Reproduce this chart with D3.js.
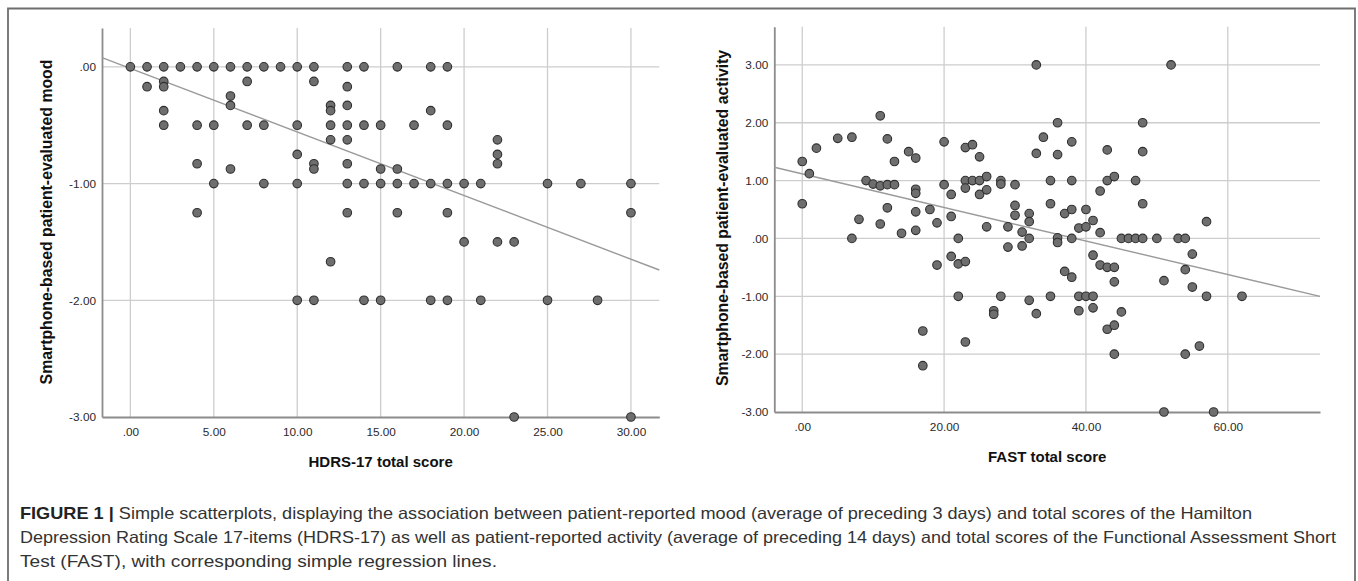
<!DOCTYPE html>
<html>
<head>
<meta charset="utf-8">
<script src="https://cdn.jsdelivr.net/npm/d3@7/dist/d3.min.js"></script>
<style>
  html, body { margin: 0; padding: 0; background: #fff; }
  svg { display: block; }
  text { font-family: "Liberation Sans", Arial, Helvetica, sans-serif; }
</style>
</head>
<body>
<svg id="chart" width="1358" height="581"></svg>
<script>
// ---------- DATA ----------
// Left panel: HDRS-17 total score vs smartphone-based mood
const hdrsScore = [0,1,2,3,4,5,6,7,8,9,10,11,13,14,16,18,19,
  2,7,11, 1,2,13, 6, 6,12,13, 2,12,18,
  2,4,5,7,8,10,12,13,14,15,17,19,
  12,13,22, 10,22, 4,11,13,22, 6,11,15,16,
  5,8,10,13,14,15,16,17,18,19,20,21,25,27,30,
  4,13,16,19,30, 20,22,23, 12,
  10,11,14,15,18,19,21,25,28, 23,30];
const moodValue = [0,0,0,0,0,0,0,0,0,0,0,0,0,0,0,0,0,
  -0.125,-0.125,-0.125, -0.17,-0.17,-0.17, -0.25, -0.33,-0.33,-0.33, -0.375,-0.375,-0.375,
  -0.5,-0.5,-0.5,-0.5,-0.5,-0.5,-0.5,-0.5,-0.5,-0.5,-0.5,-0.5,
  -0.625,-0.625,-0.625, -0.75,-0.75, -0.83,-0.83,-0.83,-0.83, -0.875,-0.875,-0.875,-0.875,
  -1,-1,-1,-1,-1,-1,-1,-1,-1,-1,-1,-1,-1,-1,-1,
  -1.25,-1.25,-1.25,-1.25,-1.25, -1.5,-1.5,-1.5, -1.67,
  -2,-2,-2,-2,-2,-2,-2,-2,-2, -3,-3];
const moodFit = { intercept: -0.013, slope: -0.0545 };

// Right panel: FAST total score vs smartphone-based activity
const fastScore = [0,0,1,2,5,7,7,8,9,10,11,11,11,12,12,12,13,13,14,15,16,16,16,16,16,18,19,20,20,21,21,22,
  23,23,23,24,24,25,25,25,26,26,26,28,28,29,30,30,30,31,
  19,21,22,23,29,31,22,28,27,27,17,23,17,
  33,52,36,48,34,38,33,36,43,48,35,38,43,44,47,42,35,48,32,32,37,38,40,41,39,40,42,57,
  32,36,36,38,45,46,47,48,50,53,54,
  41,55,42,43,44,37,38,44,54,51,55,32,35,39,40,41,57,62,33,39,41,45,43,44,56,44,54,51,58];
const activityValue = [1.33,0.60,1.12,1.56,1.73,1.75,0,0.33,1.00,0.94,2.12,0.91,0.25,1.72,0.93,0.53,1.33,0.93,0.09,1.5,1.39,0.85,0.78,0.46,0.14,0.5,0.27,1.67,0.93,0.76,0.38,0,
  1.57,1.0,0.87,1.62,1.0,1.41,1.0,0.76,1.07,0.84,0.2,1.0,0.94,0.2,0.93,0.57,0.40,0.11,
  -0.46,-0.31,-0.44,-0.40,-0.15,-0.13,-1.0,-1.0,-1.25,-1.31,-1.60,-1.79,-2.2,
  3.0,3.0,2.0,2.0,1.75,1.67,1.47,1.45,1.53,1.5,1.0,1.0,1.0,1.07,1.0,0.82,0.6,0.6,0.43,0.29,0.43,0.5,0.5,0.31,0.18,0.2,0.1,0.29,
  0,0.01,-0.07,0,0,0,0,0,0,0,0,
  -0.29,-0.27,-0.46,-0.5,-0.5,-0.57,-0.67,-0.75,-0.54,-0.73,-0.84,-1.07,-1.0,-1.0,-1.0,-1.0,-1.0,-1.0,-1.3,-1.25,-1.2,-1.27,-1.57,-1.5,-1.86,-2.0,-2.0,-3.0,-3.0];
const activityFit = { intercept: 1.116, slope: -0.029 };

// Ticks
const leftXTicks = [0,5,10,15,20,25,30];
const leftYTicks = [0,-1,-2,-3];
const rightXTicks = [0,20,40,60];
const rightYTicks = [3,2,1,0,-1,-2,-3];

const leftXTitle = "HDRS-17 total score";
const leftYTitle = "Smartphone-based patient-evaluated mood";
const rightXTitle = "FAST total score";
const rightYTitle = "Smartphone-based patient-evaluated activity";

const captionBold = "FIGURE 1 |";
const captionLines = [
  " Simple scatterplots, displaying the association between patient-reported mood (average of preceding 3 days) and total scores of the Hamilton",
  "Depression Rating Scale 17-items (HDRS-17) as well as patient-reported activity (average of preceding 14 days) and total scores of the Functional Assessment Short",
  "Test (FAST), with corresponding simple regression lines."
];

// ---------- DRAW ----------
const svg = d3.select("#chart");
svg.append("rect").attr("width",1358).attr("height",581).attr("fill","#fff");

// outer frame (top, left, right)
svg.append("path")
  .attr("d","M8,581 L8,8.5 L1355,8.5 L1355,581")
  .attr("fill","none").attr("stroke","#6e6e6e").attr("stroke-width",1.8);

const fmt = d => { const s = Math.abs(d).toFixed(2); const t = s.startsWith("0") ? s.slice(1) : s; return (d < 0 ? "-" : "") + t; };

function panel(cfg) {
  const x = d3.scaleLinear().domain(cfg.xDomain).range([cfg.left, cfg.right]);
  const y = d3.scaleLinear().domain(cfg.yDomain).range([cfg.bottom, cfg.top]);
  const g = svg.append("g");

  // grid
  g.append("g").selectAll("line.h").data(cfg.yTicks.filter(t => t !== cfg.yDomain[0]))
    .join("line").attr("x1", cfg.left).attr("x2", cfg.right)
    .attr("y1", d => y(d)).attr("y2", d => y(d))
    .attr("stroke","#cdcdcd").attr("stroke-width",1.3);
  g.append("g").selectAll("line.v").data(cfg.xTicks)
    .join("line").attr("y1", cfg.top).attr("y2", cfg.bottom)
    .attr("x1", d => x(d)).attr("x2", d => x(d))
    .attr("stroke","#cdcdcd").attr("stroke-width",1.3);

  // axes (using d3 axes, with tick marks hidden)
  const xAxis = g.append("g").attr("transform",`translate(0,${cfg.bottom})`)
    .call(d3.axisBottom(x).tickValues(cfg.xTicks).tickFormat(fmt).tickSize(0).tickPadding(11));
  const yAxis = g.append("g").attr("transform",`translate(${cfg.left},0)`)
    .call(d3.axisLeft(y).tickValues(cfg.yTicks).tickFormat(fmt).tickSize(0).tickPadding(6));
  [xAxis, yAxis].forEach(a => {
    a.select(".domain").attr("stroke","#8c8c8c").attr("stroke-width",1.8);
    a.selectAll("text").attr("fill","#2a2a2a").style("font-size","11.8px")
      .style("font-family","'Liberation Sans', Arial, sans-serif");
  });

  // regression line
  const [x0, x1] = cfg.xDomain;
  g.append("line")
    .attr("x1", x(x0)).attr("y1", y(cfg.fit.intercept + cfg.fit.slope * x0))
    .attr("x2", x(x1)).attr("y2", y(cfg.fit.intercept + cfg.fit.slope * x1))
    .attr("stroke","#9a9a9a").attr("stroke-width",1.4);

  // points
  const pts = cfg.xs.map((v, i) => [v, cfg.ys[i]]);
  g.append("g").selectAll("circle").data(pts).join("circle")
    .attr("cx", d => x(d[0])).attr("cy", d => y(d[1])).attr("r", 4.3)
    .attr("fill","#6e6e6e").attr("stroke","#2f2f2f").attr("stroke-width",1.1);

  // titles
  g.append("text").attr("x",(cfg.left + cfg.right) / 2 + cfg.xTitleDx).attr("y", cfg.bottom + 50)
    .attr("text-anchor","middle").attr("font-weight","bold").attr("fill","#111")
    .style("font-size","15px").text(cfg.xTitle);
  g.append("text").attr("transform",`translate(${cfg.yTitleX},${cfg.yTitleY}) rotate(-90)`)
    .attr("text-anchor","middle").attr("font-weight","bold").attr("fill","#111")
    .style("font-size","15.8px").text(cfg.yTitle);
}

panel({
  xDomain: [-1.7, 31.7], yDomain: [-3, 0.333],
  left: 102, right: 659.3, top: 28, bottom: 417,
  xTicks: leftXTicks, yTicks: leftYTicks,
  xs: hdrsScore, ys: moodValue, fit: moodFit,
  xTitle: leftXTitle, yTitle: leftYTitle, xTitleDx: 0,
  yTitleX: 52, yTitleY: 222
});

panel({
  xDomain: [-3.94, 73], yDomain: [-3, 3.66],
  left: 774.3, right: 1320, top: 26.7, bottom: 412,
  xTicks: rightXTicks, yTicks: rightYTicks,
  xs: fastScore, ys: activityValue, fit: activityFit,
  xTitle: rightXTitle, yTitle: rightYTitle, xTitleDx: 0,
  yTitleX: 728, yTitleY: 218
});

// caption
const cap = svg.append("g").attr("fill","#333").style("font-size","16.5px");
const l1 = cap.append("text").attr("x",20).attr("y",519).attr("textLength",1232).attr("lengthAdjust","spacingAndGlyphs");
l1.append("tspan").attr("font-weight","bold").attr("fill","#222").text(captionBold);
l1.append("tspan").text(captionLines[0]);
cap.append("text").attr("x",20).attr("y",543).attr("textLength",1316).attr("lengthAdjust","spacingAndGlyphs").text(captionLines[1]);
cap.append("text").attr("x",20).attr("y",567).attr("textLength",477).attr("lengthAdjust","spacingAndGlyphs").text(captionLines[2]);
</script>
</body>
</html>
